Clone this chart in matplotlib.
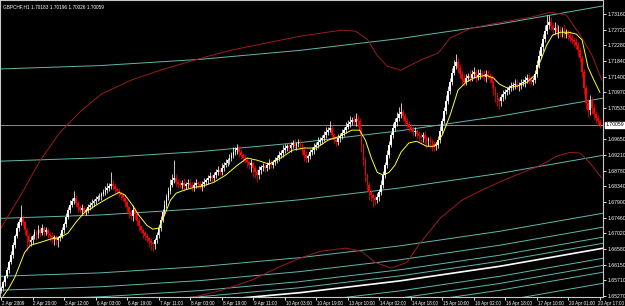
import numpy as np
import matplotlib.pyplot as plt

plt.rcParams['font.family'] = ['Liberation Sans', 'DejaVu Sans']

# GBPCHF H1 candles (close per bar, open = previous close)
open0 = 1.6540
closes = [
    1.6549, 1.6565, 1.6582, 1.6599, 1.6621, 1.6641, 1.6669, 1.6694, 1.6717, 1.6733, 1.6745,
    1.6733, 1.6711, 1.6694, 1.6677, 1.6683,
    1.6694, 1.6705, 1.6697, 1.6711, 1.6703, 1.6717, 1.6705, 1.6711, 1.6700, 1.6694, 1.6686, 1.6691, 1.6683, 1.6689, 1.6694,
    1.6711, 1.6728, 1.6747, 1.6767, 1.6781, 1.6792, 1.6801,
    1.6787, 1.6775, 1.6767, 1.6773, 1.6761,
    1.6767, 1.6775, 1.6781, 1.6787, 1.6792, 1.6798, 1.6803, 1.6806, 1.6812, 1.6817, 1.6823, 1.6829,
    1.6834, 1.6840, 1.6834,
    1.6826, 1.6820, 1.6815, 1.6809,
    1.6801, 1.6789, 1.6775, 1.6761, 1.6750, 1.6767, 1.6756, 1.6736, 1.6722, 1.6711,
    1.6703, 1.6694, 1.6689, 1.6680, 1.6675, 1.6672, 1.6683,
    1.6697, 1.6717, 1.6739, 1.6761, 1.6781, 1.6801, 1.6820, 1.6837, 1.6851,
    1.6857, 1.6845, 1.6840, 1.6837, 1.6843, 1.6834, 1.6840, 1.6843, 1.6837, 1.6831, 1.6837, 1.6843, 1.6840, 1.6834,
    1.6840, 1.6845, 1.6851, 1.6857, 1.6862, 1.6857, 1.6865, 1.6873, 1.6879, 1.6873, 1.6885, 1.6893, 1.6899,
    1.6907, 1.6913, 1.6921, 1.6929, 1.6935, 1.6941, 1.6929, 1.6921, 1.6913, 1.6907, 1.6901, 1.6893, 1.6899,
    1.6885, 1.6873, 1.6865, 1.6879, 1.6887, 1.6890, 1.6885, 1.6893, 1.6899, 1.6893, 1.6901, 1.6907, 1.6913,
    1.6921, 1.6927, 1.6935, 1.6941, 1.6946, 1.6941, 1.6949, 1.6955, 1.6946, 1.6952, 1.6957, 1.6949,
    1.6935, 1.6921, 1.6913, 1.6918, 1.6929, 1.6935, 1.6943, 1.6949, 1.6957, 1.6963, 1.6969, 1.6977, 1.6985, 1.6991, 1.6997,
    1.6977, 1.6963, 1.6957, 1.6969, 1.6974, 1.6983, 1.6991, 1.6999,
    1.7008, 1.7013, 1.7019, 1.7013, 1.7022, 1.7016,
    1.6991, 1.6949, 1.6907, 1.6865, 1.6837, 1.6817, 1.6809, 1.6801, 1.6795, 1.6803,
    1.6817, 1.6837, 1.6865, 1.6893, 1.6921, 1.6949, 1.6977, 1.6997, 1.7013,
    1.7025, 1.7036, 1.7041, 1.7030, 1.7016,
    1.7008, 1.6999, 1.6994, 1.6985, 1.6988, 1.6980, 1.6974, 1.6971, 1.6977, 1.6966, 1.6960, 1.6966, 1.6957, 1.6952,
    1.6946, 1.6949,
    1.6963, 1.6988, 1.7016, 1.7044, 1.7072, 1.7100, 1.7125, 1.7151, 1.7170, 1.7181,
    1.7165, 1.7148, 1.7134, 1.7125, 1.7137,
    1.7142, 1.7137, 1.7148, 1.7153, 1.7139, 1.7145, 1.7151, 1.7145, 1.7139, 1.7148, 1.7142, 1.7137,
    1.7123, 1.7106, 1.7089, 1.7078, 1.7072,
    1.7083, 1.7092, 1.7097, 1.7103, 1.7109, 1.7114, 1.7117, 1.7120, 1.7114, 1.7117, 1.7123, 1.7125, 1.7131, 1.7137, 1.7131, 1.7125, 1.7131,
    1.7148, 1.7173, 1.7198, 1.7223, 1.7246, 1.7268, 1.7285,
    1.7293, 1.7282, 1.7271, 1.7277, 1.7265, 1.7271,
    1.7265, 1.7271, 1.7260, 1.7263, 1.7257, 1.7249, 1.7243, 1.7237, 1.7229, 1.7215,
    1.7193, 1.7153, 1.7109, 1.7067, 1.7047, 1.7075, 1.7053, 1.7036, 1.7025, 1.7016, 1.70059,
]
# wick lengths above / below the body, in pips
wick_up = [
    6, 8, 5, 10, 7, 12, 9, 6, 14, 10,
    36, 8, 5, 6, 9, 12, 7, 10, 6, 14,
    8, 12, 6, 9, 5, 7, 11, 6, 8, 5,
    9, 10, 7, 12, 8, 14, 10, 20, 9, 6,
    8, 11, 7, 6, 9, 8, 12, 6, 10, 7,
    9, 5, 8, 11, 14, 10, 34, 12, 8, 6,
    9, 7, 6, 10, 8, 5, 7, 14, 8, 6,
    9, 5, 7, 6, 8, 5, 9, 6, 7, 10,
    8, 12, 9, 14, 10, 12, 16, 18, 50, 10,
    8, 12, 9, 14, 7, 10, 12, 8, 9, 11,
    7, 10, 8, 12, 6, 9, 11, 7, 10, 8,
    12, 9, 14, 8, 10, 7, 12, 9, 15, 8,
    10, 7, 9, 6, 11, 8, 7, 10, 6, 9,
    8, 12, 7, 10, 6, 9, 11, 8, 7, 10,
    9, 12, 8, 14, 10, 7, 12, 9, 8, 11,
    7, 10, 9, 6, 8, 11, 7, 10, 9, 12,
    8, 14, 10, 9, 12, 16, 10, 20, 8, 7,
    9, 11, 8, 12, 10, 14, 12, 18, 10, 14,
    16, 12, 8, 10, 7, 9, 6, 8, 10, 7,
    9, 12, 10, 14, 12, 10, 15, 12, 10, 14,
    12, 16, 20, 25, 10, 8, 12, 9, 10, 8,
    11, 7, 9, 10, 8, 12, 9, 7, 10, 8,
    9, 10, 12, 14, 10, 12, 16, 14, 12, 15,
    18, 22, 12, 10, 8, 14, 10, 9, 16, 12,
    14, 10, 18, 12, 9, 15, 11, 10, 8, 7,
    9, 8, 10, 7, 9, 11, 8, 10, 7, 12,
    9, 14, 10, 8, 12, 9, 11, 10, 14, 12,
    10, 12, 14, 16, 12, 15, 18, 28, 20, 14,
    12, 16, 10, 14, 12, 10, 15, 12, 9, 11,
    10, 8, 12, 9, 8, 7, 10, 8, 12, 14,
    10, 12, 9, 8, 6,
]
wick_dn = [
    5, 7, 10, 6, 8, 5, 9, 7, 6, 8,
    8, 10, 14, 40, 12, 9, 10, 8, 12, 7,
    9, 6, 10, 8, 12, 14, 10, 16, 12, 20,
    8, 6, 7, 9, 5, 8, 6, 7, 10, 12,
    9, 14, 10, 7, 8, 6, 9, 7, 8, 6,
    7, 9, 6, 8, 7, 9, 8, 10, 12, 9,
    10, 12, 9, 14, 12, 16, 10, 12, 14, 10,
    12, 9, 14, 10, 12, 15, 18, 20, 14, 8,
    7, 9, 6, 8, 7, 5, 8, 6, 9, 10,
    12, 8, 10, 14, 9, 12, 8, 10, 11, 9,
    10, 8, 12, 9, 7, 10, 8, 11, 7, 9,
    8, 10, 7, 9, 6, 8, 10, 7, 9, 8,
    11, 14, 10, 12, 9, 14, 12, 18, 24, 16,
    20, 12, 10, 9, 11, 8, 10, 7, 9, 8,
    7, 9, 8, 10, 7, 9, 8, 11, 7, 9,
    10, 8, 12, 14, 16, 12, 10, 9, 8, 10,
    7, 9, 8, 10, 7, 9, 8, 6, 12, 10,
    9, 8, 10, 7, 9, 8, 6, 9, 8, 7,
    9, 12, 14, 18, 16, 20, 14, 22, 16, 24,
    12, 9, 10, 8, 7, 9, 8, 7, 6, 8,
    7, 9, 8, 10, 12, 14, 10, 12, 9, 11,
    10, 12, 14, 16, 12, 14, 18, 12, 16, 20,
    14, 10, 8, 7, 9, 6, 8, 7, 9, 8,
    7, 9, 10, 12, 14, 10, 9, 8, 11, 9,
    10, 12, 9, 11, 8, 10, 12, 9, 11, 14,
    16, 20, 18, 22, 12, 10, 14, 9, 11, 8,
    12, 10, 9, 14, 10, 8, 12, 9, 10, 8,
    9, 8, 7, 9, 8, 10, 7, 9, 12, 10,
    14, 12, 10, 16, 12, 14, 10, 12, 14, 10,
    12, 14, 10, 16, 12, 14, 18, 16, 20, 14,
    18, 16, 14, 12, 10,
]

# moving average (yellow), sampled (bar, price)
ma_bar = [1, 4, 7, 10, 12, 15, 20, 25, 30, 34, 38, 42, 46, 50, 55, 60, 63, 66, 70, 74, 77, 80, 83, 86,
          89, 93, 98, 102, 108, 114, 120, 125, 130, 136, 142, 148, 154, 160, 166, 172, 178, 182, 185,
          188, 191, 194, 197, 200, 203, 207, 211, 216, 220, 224, 228, 232, 236, 240, 246, 250, 253, 257,
          262, 267, 271, 274, 277, 280, 284, 288, 292, 295, 298, 301, 304]
ma_val = [1.6526, 1.6549, 1.6579, 1.6621, 1.6649, 1.6669, 1.6677, 1.6686, 1.6691, 1.6703, 1.6733, 1.6759,
          1.6773, 1.6787, 1.6803, 1.6817, 1.6809, 1.6787, 1.6753, 1.6725, 1.6714, 1.6717, 1.6753, 1.6795,
          1.6815, 1.6823, 1.6831, 1.6834, 1.6845, 1.6865, 1.6893, 1.6913, 1.6907, 1.6896, 1.6913, 1.6935,
          1.6941, 1.6941, 1.6963, 1.6974, 1.6991, 1.6991, 1.6963, 1.6913, 1.6873, 1.6865, 1.6873, 1.6893,
          1.6929, 1.6955, 1.6960, 1.6946, 1.6946, 1.6977, 1.7033, 1.7103, 1.7125, 1.7137, 1.7145, 1.7137,
          1.7120, 1.7109, 1.7114, 1.7125, 1.7145, 1.7187, 1.7229, 1.7257, 1.7265, 1.7265, 1.7260, 1.7243,
          1.7167, 1.7131, 1.7097]

# envelope bands (dark red), sampled (bar, price)
up_bar = [0, 10, 20, 30, 41, 51, 66, 81, 102, 117, 132, 152, 173, 180, 186, 191, 196, 203, 213, 222, 228,
          239, 254, 269, 279, 287, 294, 300, 305]
up_val = [1.6717, 1.6809, 1.6907, 1.6985, 1.7047, 1.7092, 1.7131, 1.7159, 1.7193, 1.7215, 1.7232, 1.7254,
          1.7271, 1.7268, 1.7245, 1.7200, 1.7170, 1.7159, 1.7187, 1.7207, 1.7249, 1.7277, 1.7293, 1.7307,
          1.7321, 1.7313, 1.7257, 1.7201, 1.7131]
lo_bar = [96, 112, 127, 142, 152, 162, 175, 183, 190, 198, 206, 213, 223, 234, 244, 254, 264, 274, 282,
          289, 294, 299, 305]
lo_val = [1.6521, 1.6543, 1.6571, 1.6610, 1.6633, 1.6652, 1.6661, 1.6652, 1.6621, 1.6605, 1.6621, 1.6677,
          1.6745, 1.6795, 1.6823, 1.6848, 1.6871, 1.6893, 1.6918, 1.6929, 1.6927, 1.6899, 1.6857]

# polynomial regression channel: centre line (white) sampled, and level offsets (cyan)
chan_bar = [-0.5, 50.3, 101.0, 151.8, 202.5, 253.3, 305.6]
chan_mid = [1.64842, 1.64937, 1.65111, 1.65363, 1.65693, 1.66102, 1.66606]
chan_levels = [0.0678, 0.0420, 0.0260, 0.0098, 0.0059, 0.0031, 0.0014,
               -0.0028, -0.0048, -0.0067, -0.0098]

last_price = 1.70059
header = "GBPCHF,H1 1.70183 1.70196 1.70026 1.70059"
y_ticks = [1.73160, 1.72720, 1.72280, 1.71840, 1.71400, 1.70970, 1.70530, 1.69650, 1.69210,
           1.68780, 1.68340, 1.67900, 1.67460, 1.67020, 1.66580, 1.66150, 1.65710, 1.65270]
x_labels = ['2 Apr 2009', '2 Apr 20:00', '3 Apr 12:00', '6 Apr 03:00', '6 Apr 19:00', '7 Apr 11:00',
            '8 Apr 03:00', '8 Apr 19:00', '9 Apr 11:00', '10 Apr 03:00', '10 Apr 19:00', '13 Apr 10:00',
            '14 Apr 02:00', '14 Apr 18:00', '15 Apr 10:00', '16 Apr 02:00', '16 Apr 18:00',
            '17 Apr 10:00', '20 Apr 01:00', '20 Apr 17:00']

closes = np.array(closes)
opens = np.concatenate([[open0], closes[:-1]])
highs = np.maximum(opens, closes) + np.array(wick_up) * 0.0001
lows = np.minimum(opens, closes) - np.array(wick_dn) * 0.0001
idx = np.arange(len(closes))
bull = closes >= opens

fig = plt.figure(figsize=(6.25, 3.06), dpi=100, facecolor='black')
ax = fig.add_axes([0, 9 / 306, 603 / 625, 297 / 306])
ax.set_facecolor('black')
ax.set_xlim(-0.5, 305.6)
ax.set_ylim(1.65242, 1.73552)

mid = np.array(chan_mid)
for off in chan_levels:
    ax.plot(chan_bar, mid + off, color='#5fb8ae', lw=0.7, zorder=1)
ax.plot(chan_bar, mid, color='white', lw=1.2, zorder=1)
ax.axhline(last_price, color='#8a8a8a', lw=0.7, zorder=1)

ax.plot(up_bar, up_val, color='#9b1c1c', lw=0.7, zorder=2)
ax.plot(lo_bar, lo_val, color='#9b1c1c', lw=0.7, zorder=2)

cols = np.where(bull, 'white', '#ff0000')
ax.vlines(idx, lows, highs, colors=cols, lw=0.55, zorder=3)
body = np.where(np.abs(closes - opens) < 0.00012, 0.00012, closes - opens)
ax.bar(idx, body, bottom=opens, width=0.9, color=cols, linewidth=0, zorder=3)

ax.plot(ma_bar, ma_val, color='#ffff33', lw=0.7, zorder=4)

for s in ax.spines.values():
    s.set_color('#c8c8c8')
    s.set_linewidth(0.8)

ax.yaxis.tick_right()
ax.set_yticks(y_ticks)
ax.set_yticklabels(['%.5f' % v for v in y_ticks])
ax.tick_params(axis='y', colors='white', labelsize=3.7, length=2, width=0.6, pad=1.5)

tick_pos = [16 * k for k in range(19)] + [304]
ax.set_xticks(tick_pos)
ax.set_xticklabels([])
ax.tick_params(axis='x', colors='white', length=2, width=0.6)
for k, lab in enumerate(x_labels):
    if k == len(x_labels) - 1:
        ax.text(624.5 / 603, -0.012, lab, transform=ax.transAxes, color='white', fontsize=3.3,
                ha='right', va='top')
    else:
        ax.text(tick_pos[k] + 0.5, -0.012, lab, transform=ax.get_xaxis_transform(), color='white',
                fontsize=3.3, ha='left', va='top')

ax.text(1.005, last_price, '%.5f' % last_price, transform=ax.get_yaxis_transform(), color='black',
        fontsize=3.7, ha='left', va='center',
        bbox=dict(boxstyle='square,pad=0.15', fc='white', ec='white'))

ax.text(0.005, 0.985, header, transform=ax.transAxes, color='white', fontsize=3.4, ha='left', va='top')

fig.savefig('out.png', dpi=100, facecolor='black')
